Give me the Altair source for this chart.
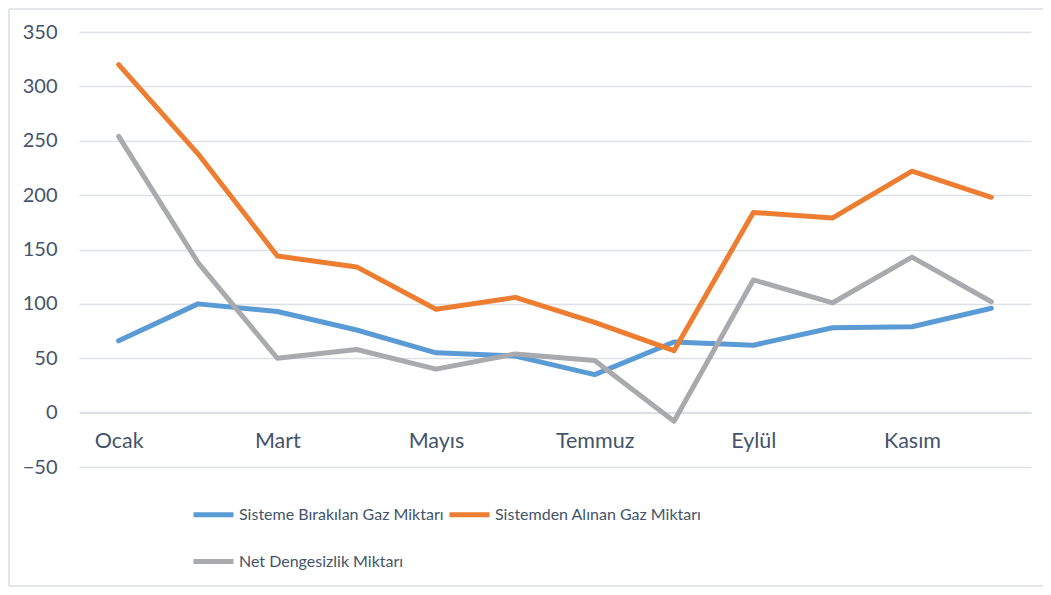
import altair as alt
import pandas as pd

months = ["Ocak", "Şubat", "Mart", "Nisan", "Mayıs", "Haziran",
          "Temmuz", "Ağustos", "Eylül", "Ekim", "Kasım", "Aralık"]
shown_months = ["Ocak", "Mart", "Mayıs", "Temmuz", "Eylül", "Kasım"]

series_names = ["Sisteme Bırakılan Gaz Miktarı",
                "Sistemden Alınan Gaz Miktarı",
                "Net Dengesizlik Miktarı"]
series_colors = ["#5B9BD5", "#ED7D31", "#A9AAAD"]

birakilan = [66, 100, 93, 76, 55, 52, 35, 65, 62, 78, 79, 96]
alinan = [320, 238, 144, 134, 95, 106, 83, 57, 184, 179, 222, 198]
net = [254, 138, 50, 58, 40, 54, 48, -8, 122, 101, 143, 102]

rows = []
for name, vals in zip(series_names, [birakilan, alinan, net]):
    for i, (m, v) in enumerate(zip(months, vals)):
        rows.append({"Ay": m, "Seri": name, "Deger": v, "ord": i})
df = pd.DataFrame(rows)

FONT = "Lato"
TXT = "#44546A"
GRID = "#DDE1E6"
FRAME = "#D9DEE4"

lines = alt.Chart(df).mark_line(strokeWidth=5, strokeCap="round", strokeJoin="round").encode(
    x=alt.X("Ay:N", sort=months,
            scale=alt.Scale(type="point", domain=months, padding=0.5),
            axis=alt.Axis(values=shown_months, title=None, labelAngle=0, grid=False,
                          ticks=False, domain=True, domainColor=GRID, domainWidth=1.3,
                          offset=-55, labelPadding=18, labelFont=FONT, labelFontSize=21.5,
                          labelColor=TXT)),
    y=alt.Y("Deger:Q",
            scale=alt.Scale(domain=[-50, 350], nice=False, zero=False),
            axis=alt.Axis(values=list(range(-50, 351, 50)), title=None, ticks=False,
                          domain=False, grid=True, gridColor=GRID, gridWidth=1.3,
                          labelPadding=22, labelFont=FONT, labelFontSize=20,
                          labelColor=TXT)),
    color=alt.Color("Seri:N", sort=series_names,
                    scale=alt.Scale(domain=series_names, range=series_colors),
                    legend=alt.Legend(title=None, orient="none", legendX=112, legendY=460,
                                      direction="horizontal",
                                      columns=2, symbolType="stroke", symbolSize=1600,
                                      symbolStrokeWidth=5, labelOffset=3, columnPadding=-5,
                                      rowPadding=14, labelFont=FONT, labelFontSize=16,
                                      labelColor=TXT, padding=0, labelLimit=400)),
    order=alt.Order("ord:Q"),
)

frame_df = pd.DataFrame({"k": [0]})
frame_base = alt.Chart(frame_df).mark_rule(stroke=FRAME, strokeWidth=1.5)
frame_top = frame_base.encode(x=alt.value(-70), x2=alt.value(964), y=alt.value(-23))
frame_left = frame_base.encode(x=alt.value(-70), y=alt.value(-23), y2=alt.value(554))
frame_bottom = frame_base.encode(x=alt.value(-70), x2=alt.value(964), y=alt.value(554))

chart = alt.layer(frame_top, frame_left, frame_bottom, lines).properties(
    width=952, height=435,
    autosize=alt.AutoSizeParams(type="none"),
    padding={"left": 71, "top": 24, "right": 12, "bottom": 120},
    view=alt.ViewBackground(stroke="transparent", strokeWidth=0),
).configure_view(stroke="transparent", strokeWidth=0).configure(background="white")

chart.save("out.html", embed_options={"renderer": "svg", "actions": False})
